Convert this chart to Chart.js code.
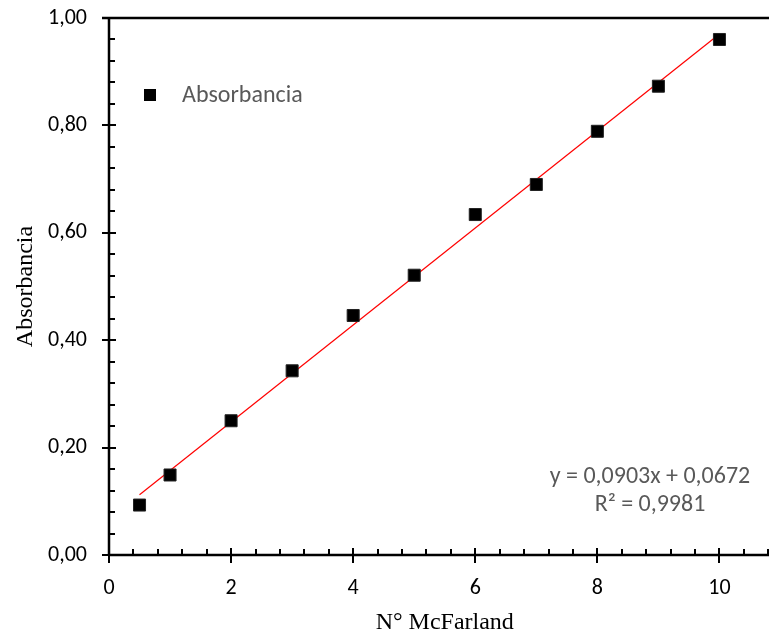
<!DOCTYPE html>
<html>
<head>
<meta charset="utf-8">
<script src="https://cdn.jsdelivr.net/npm/chart.js@4.4.1/dist/chart.umd.min.js"></script>
<style>
  html, body { margin: 0; padding: 0; background: #fff; overflow: hidden; }
  #wrap { width: 790px; height: 637px; }
</style>
</head>
<body>
<div id="wrap"><canvas id="c" width="790" height="637"></canvas></div>
<script>
// McFarland standards vs. measured absorbance
const mcfarland = [0.5, 1, 2, 3, 4, 5, 6, 7, 8, 9, 10];
const absorbancia = [0.093, 0.149, 0.250, 0.343, 0.446, 0.521, 0.634, 0.690, 0.789, 0.873, 0.960];

// Linear fit as stated on the chart
const fitSlope = 0.0903;
const fitIntercept = 0.0672;
const fitR2 = 0.9981;
const fitRange = [0.5, 10];

const xTickValues = [0, 2, 4, 6, 8, 10];
const yTickValues = [0, 0.2, 0.4, 0.6, 0.8, 1.0];

const labelFont = "Carlito, Lato, 'Open Sans', sans-serif";
const titleFont = "'Liberation Serif', 'DejaVu Serif', serif";
const grey = '#595959';

const fmt = (v, d) => v.toFixed(d).replace('.', ',');

// Axis frame, crossing major ticks, inward minor ticks, legend and fit equation
const decor = {
  id: 'decor',
  afterDraw(chart) {
    const { ctx, chartArea: a, scales: { x, y } } = chart;
    ctx.save();
    ctx.strokeStyle = '#000';
    ctx.lineWidth = 2.5;
    ctx.beginPath();
    ctx.moveTo(a.left, a.top); ctx.lineTo(a.left, a.bottom + 1);
    ctx.moveTo(a.left - 1, a.bottom); ctx.lineTo(a.right, a.bottom);
    ctx.moveTo(a.left - 7, a.top); ctx.lineTo(a.right, a.top);
    ctx.stroke();

    ctx.lineWidth = 2;
    ctx.beginPath();
    for (let v = 0; v <= x.max + 1e-9; v += 0.4) {
      const px = Math.round(x.getPixelForValue(v));
      const major = Math.abs(v / 2 - Math.round(v / 2)) < 1e-6;
      if (major) { ctx.moveTo(px, a.bottom - 7); ctx.lineTo(px, a.bottom + 8); }
      else { ctx.moveTo(px, a.bottom - 6); ctx.lineTo(px, a.bottom); }
    }
    for (let v = 0; v <= 1 + 1e-9; v += 0.04) {
      const py = Math.round(y.getPixelForValue(v));
      const major = Math.abs(v / 0.2 - Math.round(v / 0.2)) < 1e-6;
      if (major) { ctx.moveTo(a.left - 7, py); ctx.lineTo(a.left + 7, py); }
      else { ctx.moveTo(a.left, py); ctx.lineTo(a.left + 6, py); }
    }
    ctx.stroke();

    // legend
    ctx.fillStyle = '#000';
    ctx.fillRect(144, 89, 12, 12);
    ctx.fillStyle = grey;
    ctx.font = "24px " + labelFont;
    ctx.textBaseline = 'middle';
    ctx.textAlign = 'left';
    ctx.fillText('Absorbancia', 182, 96);

    // fit equation
    ctx.textAlign = 'center';
    ctx.fillText('y = ' + fmt(fitSlope, 4) + 'x + ' + fmt(fitIntercept, 4), 650, 477);
    ctx.fillText('R\u00B2 = ' + fmt(fitR2, 4), 650, 505);
    ctx.restore();
  }
};

new Chart(document.getElementById('c'), {
  type: 'scatter',
  data: {
    datasets: [
      {
        label: 'Absorbancia',
        data: mcfarland.map((m, i) => ({ x: m, y: absorbancia[i] })),
        pointStyle: 'rect',
        pointRadius: 8.5,
        backgroundColor: '#000',
        borderColor: '#222',
        borderWidth: 1,
        order: 1
      },
      {
        label: 'Lineal',
        type: 'line',
        data: fitRange.map(m => ({ x: m, y: fitSlope * m + fitIntercept })),
        borderColor: '#ff0000',
        borderWidth: 1.2,
        pointRadius: 0,
        fill: false,
        order: 2
      }
    ]
  },
  options: {
    responsive: false,
    animation: false,
    devicePixelRatio: 1,
    layout: { padding: { top: 18, left: 11, right: 0, bottom: 0 } },
    plugins: { legend: { display: false }, tooltip: { enabled: false } },
    scales: {
      x: {
        type: 'linear', min: 0, max: 11,
        afterBuildTicks: s => { s.ticks = xTickValues.map(v => ({ value: v })); },
        grid: { display: false, drawTicks: false },
        border: { display: false },
        ticks: { color: '#000', font: { family: labelFont, size: 22 }, padding: 20,
                 callback: v => String(v) },
        title: { display: true, text: 'N\u00B0 McFarland', color: '#000',
                 font: { family: titleFont, size: 24 }, padding: { top: 8, bottom: 0 } },
        afterFit: s => { s.height = 82; s.paddingLeft = 0; s.paddingRight = 0; }
      },
      y: {
        type: 'linear', min: 0, max: 1,
        afterBuildTicks: s => { s.ticks = yTickValues.map(v => ({ value: v })); },
        grid: { display: false, drawTicks: false },
        border: { display: false },
        ticks: { color: '#000', font: { family: labelFont, size: 22 }, padding: 22,
                 callback: v => fmt(v, 2) },
        title: { display: true, text: 'Absorbancia', color: '#000',
                 font: { family: titleFont, size: 24 }, padding: { top: 0, bottom: 4 } },
        afterFit: s => { s.width = 98; s.paddingTop = 0; s.paddingBottom = 0; }
      }
    }
  },
  plugins: [decor]
});
</script>
</body>
</html>
